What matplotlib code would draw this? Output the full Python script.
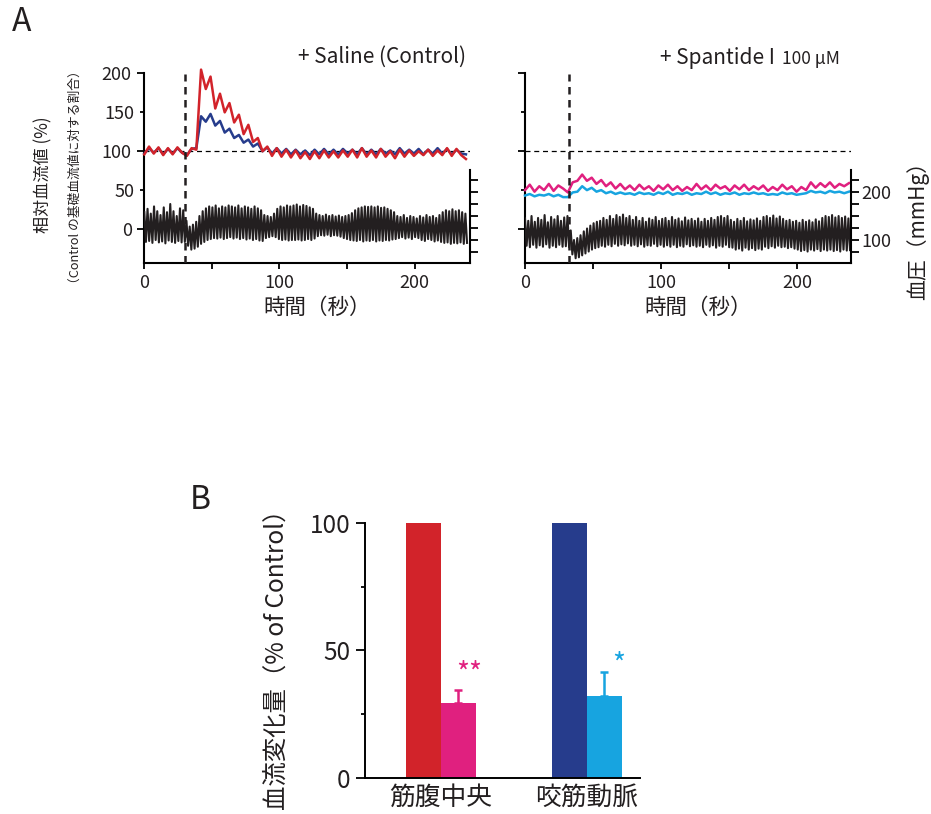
import matplotlib.pyplot as plt
import numpy as np

plt.rcParams['font.family'] = ['Noto Sans CJK JP', 'DejaVu Sans']

# ---- Panel A: blood flow (% of control), sampled every 3.5 s ----
flow_dt = 3.5
saline_red = [96, 106, 97, 105, 95, 104, 96, 105, 98, 94, 104, 102,
              205, 180, 196, 155, 174, 150, 162, 137, 147, 122, 134, 112,
              117, 100, 106, 94, 104, 93, 102, 92, 101, 91, 99, 90,
              100, 91, 101, 92, 100, 92, 101, 93, 102, 92, 104, 93,
              101, 92, 103, 93, 100, 91, 102, 93, 101, 94, 100, 95,
              102, 94, 101, 95, 104, 94, 103, 95, 90]
saline_blue = [97, 104, 98, 104, 96, 103, 97, 104, 98, 95, 103, 104,
               145, 138, 148, 133, 139, 124, 129, 117, 121, 111, 115, 106,
               110, 100, 105, 97, 104, 97,
               103, 96, 102, 96, 101, 95, 102, 96, 103, 96,
               102, 96, 103, 97, 102, 96, 104, 96, 102, 96,
               103, 97, 101, 96, 104, 97, 102, 97, 103, 96,
               102, 97, 104, 97, 103, 96, 102, 97, 96]
spantide_magenta = [50, 57, 48, 55, 50, 58, 49, 56, 52, 47,
                    60, 62, 70, 62, 66, 58, 63, 55, 60, 52, 58, 51, 56,
                    50, 57, 51, 55, 49, 56, 51, 57, 50, 55,
                    49, 54, 50, 58, 51, 56, 50, 57, 52, 55,
                    49, 56, 51, 57, 50, 55, 51, 56, 49, 54,
                    50, 57, 51, 55, 48, 54, 50, 60, 53, 59,
                    54, 60, 53, 58, 55, 59]
spantide_cyan = [43, 45, 42, 44, 43, 45, 42, 44, 41, 41,
                 47, 48, 55, 50, 53, 48, 50, 46, 48, 45, 47, 45, 46,
                 44, 47, 45, 46, 44, 47, 45, 48, 44, 46,
                 45, 47, 44, 46, 45, 48, 45, 47, 44, 46,
                 45, 47, 44, 46, 45, 47, 45, 46, 44, 45,
                 44, 47, 45, 46, 44, 45, 46, 49, 47, 48,
                 46, 49, 47, 48, 46, 48]

# ---- Panel A: blood pressure (mmHg), one peak / trough per 2.4 s beat ----
beat = 2.4
saline_bp_peak = [158, 165, 155, 170, 160, 152, 168, 158, 175, 160, 150, 166,
                  162, 140, 128, 132, 138,
                  150, 160, 166, 170, 168, 172, 166, 170, 168, 172,
                  170, 168, 172, 166, 170, 168, 165, 170, 166, 162,
                  152, 150, 148, 155,
                  165, 170, 168, 172, 170,
                  172, 174, 170, 173, 171, 168, 165,
                  155, 152, 150, 153, 150, 152, 149, 151,
                  148, 150, 152, 156,
                  162, 166, 168, 170, 169, 170, 168, 170, 167, 168, 165, 162, 158,
                  150, 148, 152, 146, 150, 148, 145, 150, 147, 152, 148, 150, 146, 152,
                  158, 162, 160, 164, 160, 162, 158, 155]
saline_bp_trough = [96, 98, 94, 100, 95, 97, 93, 99, 96, 94, 98, 95,
                    96, 88, 80, 82, 86,
                    92, 96, 100, 102, 104, 103, 105, 102, 104, 106,
                    103, 105, 102, 104, 101, 103, 100, 102, 99, 98,
                    104, 106, 108, 106,
                    102, 100, 101, 99, 100,
                    100, 101, 99, 100, 102, 100, 103,
                    108, 110, 109, 111, 108, 110, 109, 107,
                    104, 102, 100, 99,
                    98, 100, 97, 99, 98, 100, 97, 99, 98, 100, 99, 101, 102,
                    104, 106, 103, 105, 102, 106, 104, 100, 98, 102, 100, 97, 99, 96,
                    94, 95, 92, 94, 93, 95, 92, 94]
spantide_bp_peak = [145, 140, 150, 138, 146, 142, 152, 137, 148, 143, 150, 140, 147,
                    150, 120,
                    100, 104, 110, 118, 124, 130, 135, 138,
                    140, 146, 142, 150, 144, 152, 148, 153, 146, 150,
                    142, 148, 140, 146, 138, 145, 142, 148, 140, 144,
                    146, 140, 148, 142, 145, 139, 147, 141, 144, 140,
                    145, 138, 144, 140, 146, 142, 148, 150, 146, 150,
                    142, 138, 144, 140, 146, 139, 143, 141, 145, 140,
                    148, 150, 146, 151, 145, 149, 144, 140, 142, 138,
                    140, 136, 142, 138, 141, 137, 143, 139, 146, 150,
                    148, 152, 147, 150, 146, 149, 145]
spantide_bp_trough = [88, 85, 90, 84, 89, 86, 91, 84, 88, 85, 90, 86, 87,
                      85, 70,
                      62, 64, 68, 72, 76, 80, 83, 85,
                      88, 86, 90, 87, 92, 88, 91, 89, 93, 88,
                      90, 87, 91, 86, 89, 88, 92, 87, 90, 86,
                      89, 86, 90, 85, 88, 86, 91, 87, 89, 86,
                      88, 85, 90, 86, 89, 84, 88, 86, 90, 85,
                      84, 80, 82, 78, 84, 80, 83, 79, 82, 80,
                      86, 83, 87, 84, 88, 85, 86, 83, 85, 82,
                      80, 77, 79, 76, 80, 78, 81, 77, 80, 78,
                      80, 77, 79, 76, 80, 78, 79]
saline_onset = 30
spantide_onset = 32

# ---- Panel B: bar chart ----
sites = ['筋腹中央', '咬筋動脈']
control_pct = [100, 100]
drug_pct = [29.2, 32.2]
drug_err = [5.2, 9.2]
marks = ['**', '*']

RED = '#D2232A'
NAVY = '#263C8C'
MAGENTA = '#E0207F'
CYAN = '#17A4E0'
INK = '#231f20'

fig = plt.figure(figsize=(9.31, 8.14), dpi=100)


def box(x, y, w, h):
    # pixel box (top-left origin) -> figure fraction
    return [x / 931, 1 - (y + h) / 814, w / 931, h / 814]


def trace_panel(rect, xmax, flow_top, flow_low, col_top, col_low, bp_hi, bp_lo,
                onset, left_labels, right_labels):
    ax = fig.add_axes(rect)
    ax.set_xlim(0, xmax)
    ax.set_ylim(-44, 200)
    t_flow = np.arange(len(flow_top)) * flow_dt
    ax.axhline(100, color='k', lw=0.9, ls=(0, (4, 3)), zorder=1)
    ax.plot(t_flow, flow_low, color=col_low, lw=1.8, zorder=3, clip_on=False)
    ax.plot(t_flow, flow_top, color=col_top, lw=1.8, zorder=4, clip_on=False)
    ax.axvline(onset, color=INK, lw=1.8, ls=(0, (3, 2.2)), zorder=6)

    for s in ['top', 'right']:
        ax.spines[s].set_visible(False)
    for s in ['left', 'bottom']:
        ax.spines[s].set_linewidth(1.5)
    ax.set_xticks([0, 100, 200])
    ax.set_xticks([50, 150], minor=True)
    ax.set_yticks([0, 100, 200])
    ax.set_yticks([50, 150], minor=True)
    if left_labels:
        ax.set_yticklabels(['0', '100', '200'])
        ax.set_yticklabels(['50', '150'], minor=True)
    else:
        ax.set_yticklabels([])
    ax.tick_params(which='both', direction='out', width=1.3, labelsize=13,
                   pad=4, color='k', labelcolor=INK)
    ax.tick_params(axis='y', which='major', length=5)
    ax.tick_params(axis='y', which='minor', length=3)
    ax.tick_params(axis='x', which='both', length=4)
    ax.text(0.53, -0.235, '時間（秒）', transform=ax.transAxes, ha='center',
            va='center', fontsize=15.5, color=INK)

    ax2 = ax.twinx()
    ax2.set_ylim(51.7, 446.9)
    bp = np.empty(2 * len(bp_hi))
    bp[0::2] = bp_hi
    bp[1::2] = bp_lo
    t_bp = np.arange(len(bp)) * beat / 2
    ax2.plot(t_bp, bp, color=INK, lw=1.5, zorder=2)
    for s in ['top', 'left', 'bottom']:
        ax2.spines[s].set_visible(False)
    ax2.spines['right'].set_bounds(51.7, 246)
    ax2.spines['right'].set_linewidth(1.5)
    ax2.set_yticks([75, 100, 125, 150, 175, 200, 225])
    if right_labels:
        ax2.set_yticklabels(['', '100', '', '', '', '200', ''])
    else:
        ax2.set_yticklabels([])
    ax2.tick_params(axis='y', length=5.5, width=1.3, labelsize=13, pad=2,
                    labelcolor=INK)
    return ax


trace_panel(box(144.3, 73.5, 325.7, 189.7), 241, saline_red, saline_blue, RED, NAVY,
            saline_bp_peak, saline_bp_trough, saline_onset, True, False)
trace_panel(box(525, 73.5, 326, 189.7), 239.5, spantide_magenta, spantide_cyan,
            MAGENTA, CYAN, spantide_bp_peak, spantide_bp_trough, spantide_onset,
            False, True)

fig.text(22 / 931, 1 - 22 / 814, 'A', fontsize=23, ha='center', va='center', color=INK)
fig.text(382 / 931, 1 - 63 / 814, '+ Saline (Control)', fontsize=15,
         ha='center', va='baseline', color=INK)
fig.text(660 / 931, 1 - 64 / 814, '+ Spantide I', fontsize=15,
         ha='left', va='baseline', color=INK)
fig.text(782 / 931, 1 - 64 / 814, '100 μM', fontsize=12.5,
         ha='left', va='baseline', color=INK)
fig.text(43 / 931, 1 - 175 / 814, '相対血流値 (%)', fontsize=12.3, rotation=90,
         ha='center', va='center', color=INK)
fig.text(75 / 931, 1 - 177 / 814, '（Control の基礎血流値に対する割合）', fontsize=9.2,
         rotation=90, ha='center', va='center', color=INK)
fig.text(918 / 931, 1 - 225 / 814, '血圧（mmHg）', fontsize=15, rotation=90,
         ha='center', va='center', color=INK)

# ---- Panel B ----
axb = fig.add_axes(box(365, 523, 275, 254.7))
w = 0.237
xs = np.arange(len(sites))
axb.bar(xs - w / 2, control_pct, width=w, color=[RED, NAVY])
axb.bar(xs + w / 2, drug_pct, width=w, color=[MAGENTA, CYAN])
for i, c in enumerate([MAGENTA, CYAN]):
    axb.errorbar(xs[i] + w / 2, drug_pct[i], yerr=[[0], [drug_err[i]]], color=c,
                 lw=1.8, capsize=3, capthick=1.8, clip_on=False)
axb.text(xs[0] + w / 2 + 0.075, 40.5, marks[0], color=MAGENTA, fontsize=20,
         ha='center', va='center')
axb.text(xs[1] + w / 2 + 0.1, 44, marks[1], color=CYAN, fontsize=20,
         ha='center', va='center')
axb.set_xlim(-0.52, 1.363)
axb.set_ylim(0, 100)
for s in ['top', 'right']:
    axb.spines[s].set_visible(False)
axb.spines['left'].set_linewidth(1.4)
axb.spines['bottom'].set_linewidth(1.4)
axb.set_yticks([0, 50, 100])
axb.set_yticks([25, 75], minor=True)
axb.tick_params(axis='y', which='major', length=6.5, width=1.3, labelsize=17.5,
                pad=4, labelcolor=INK)
axb.tick_params(axis='y', which='minor', length=3.2, width=1.3)
axb.set_xticks(xs)
axb.set_xticklabels(sites, fontsize=18.5, color=INK)
axb.tick_params(axis='x', length=0, pad=5)

fig.text(200 / 931, 1 - 500 / 814, 'B', fontsize=23, ha='center', va='center', color=INK)
fig.text(277 / 931, 1 - 654 / 814, '血流変化量（% of Control）', fontsize=17.6,
         rotation=90, ha='center', va='center', color=INK)

fig.savefig('out.png', dpi=100)
